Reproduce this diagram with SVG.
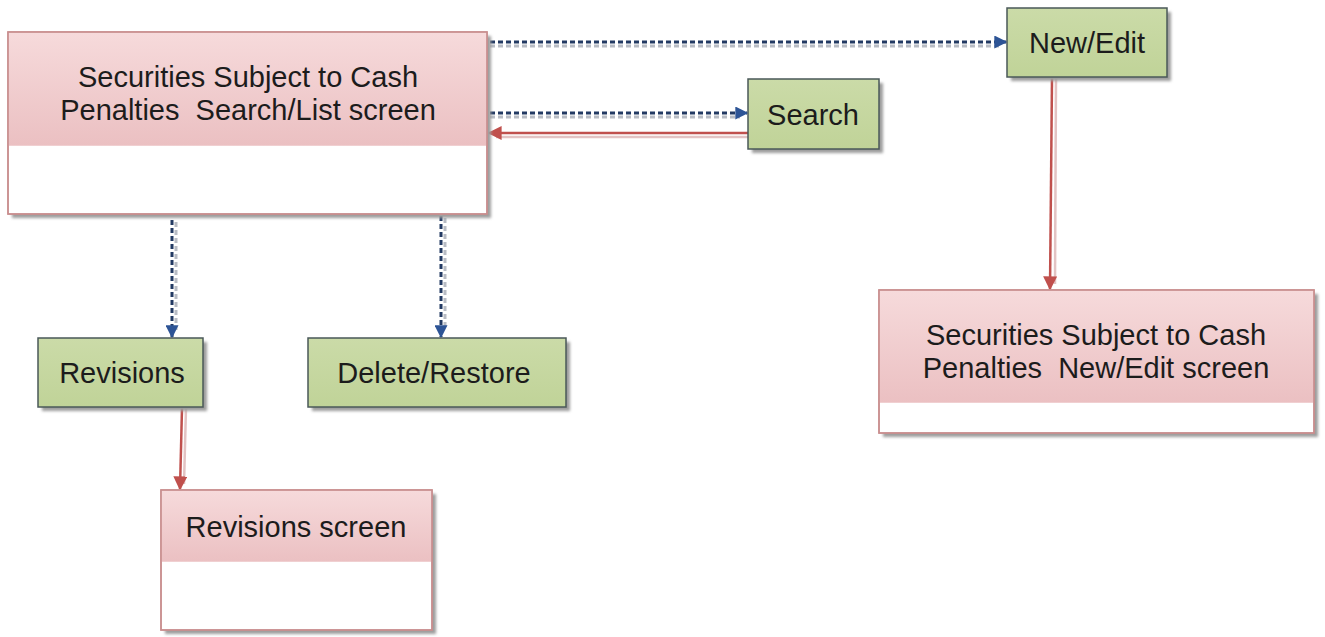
<svg xmlns="http://www.w3.org/2000/svg" width="1325" height="637" viewBox="0 0 1325 637">
  <defs>
    <linearGradient id="pinkHead" x1="0" y1="0" x2="0" y2="1">
      <stop offset="0" stop-color="#f6dadb"/>
      <stop offset="1" stop-color="#ebc0c2"/>
    </linearGradient>
    <linearGradient id="greenFill" x1="0" y1="0" x2="0" y2="1">
      <stop offset="0" stop-color="#cbdba8"/>
      <stop offset="1" stop-color="#c0d398"/>
    </linearGradient>
    <filter id="shadow" x="-10%" y="-10%" width="130%" height="130%">
      <feGaussianBlur stdDeviation="1.5"/>
    </filter>
    <marker id="blueArrow" viewBox="0 0 10 10" refX="9" refY="5" markerWidth="13" markerHeight="13" markerUnits="userSpaceOnUse" orient="auto">
      <path d="M0,0 L10,5 L0,10 Z" fill="#2d5496"/>
    </marker>
    <marker id="redArrow" viewBox="0 0 10 10" refX="9" refY="5" markerWidth="14" markerHeight="14" markerUnits="userSpaceOnUse" orient="auto">
      <path d="M0,0 L10,5 L0,10 Z" fill="#c0504d"/>
    </marker>
  </defs>
  <style>
    .shadow { fill: #9c9c9c; filter: url(#shadow); }
    .screen { fill: #ffffff; stroke: #c98e8f; stroke-width: 1.5; }
    .head { fill: url(#pinkHead); }
    .btn { fill: url(#greenFill); stroke: #4a5858; stroke-width: 1.5; }
    .label { font-family: "Liberation Sans", Arial, sans-serif; font-size: 29px; fill: #1c1c1c; text-anchor: middle; }
    .dot { fill: none; stroke: #233a63; stroke-width: 3; stroke-dasharray: 5 3; }
    .dotShadow { fill: none; stroke: #b8bcc4; stroke-width: 3; stroke-dasharray: 5 3; }
    .red { fill: none; stroke: #c0504d; stroke-width: 2.5; }
    .redShadow { fill: none; stroke: #e3c3c3; stroke-width: 2.5; }
  </style>

  <rect width="1325" height="637" fill="#ffffff"/>

  <g id="connectors">
    <!-- main -> New/Edit -->
    <line class="dotShadow" x1="490" y1="46" x2="1000" y2="46"/>
    <line class="dot" x1="490" y1="42" x2="1006" y2="42" marker-end="url(#blueArrow)"/>
    <!-- main -> Search -->
    <line class="dotShadow" x1="490" y1="117" x2="740" y2="117"/>
    <line class="dot" x1="490" y1="113" x2="747" y2="113" marker-end="url(#blueArrow)"/>
    <!-- Search -> main -->
    <line class="redShadow" x1="748" y1="137" x2="496" y2="137"/>
    <line class="red" x1="748" y1="133" x2="489" y2="133" marker-end="url(#redArrow)"/>
    <!-- main -> Revisions -->
    <line class="dotShadow" x1="176" y1="222" x2="176" y2="330"/>
    <line class="dot" x1="172" y1="220" x2="172" y2="337" marker-end="url(#blueArrow)"/>
    <!-- main -> Delete/Restore -->
    <line class="dotShadow" x1="445" y1="218" x2="445" y2="330"/>
    <line class="dot" x1="441" y1="216" x2="441" y2="337" marker-end="url(#blueArrow)"/>
    <!-- Revisions -> Revisions screen -->
    <line class="redShadow" x1="186" y1="408" x2="184" y2="484"/>
    <line class="red" x1="182" y1="408" x2="180" y2="489" marker-end="url(#redArrow)"/>
    <!-- New/Edit -> New/Edit screen -->
    <line class="redShadow" x1="1056" y1="78" x2="1055" y2="284"/>
    <line class="red" x1="1052" y1="78" x2="1050" y2="289" marker-end="url(#redArrow)"/>
  </g>

  <g id="node-main">
    <rect class="shadow" x="12" y="36" width="479" height="182"/>
    <rect class="screen" x="8" y="32" width="479" height="182"/>
    <rect class="head" x="8.75" y="32.75" width="477.5" height="113"/>
    <rect x="8" y="32" width="479" height="182" fill="none" stroke="#c98e8f" stroke-width="1.5"/>
    <text class="label" x="248" y="87">Securities Subject to Cash</text>
    <text class="label" x="248" y="120" xml:space="preserve">Penalties  Search/List screen</text>
  </g>

  <g id="node-search">
    <rect class="shadow" x="752" y="83" width="131" height="70"/>
    <rect class="btn" x="748" y="79" width="131" height="70"/>
    <text class="label" x="813" y="125">Search</text>
  </g>

  <g id="node-newedit">
    <rect class="shadow" x="1011" y="12" width="160" height="69"/>
    <rect class="btn" x="1007" y="8" width="160" height="69"/>
    <text class="label" x="1087" y="53">New/Edit</text>
  </g>

  <g id="node-revisions">
    <rect class="shadow" x="42" y="342" width="165" height="69"/>
    <rect class="btn" x="38" y="338" width="165" height="69"/>
    <text class="label" x="122" y="383">Revisions</text>
  </g>

  <g id="node-delete">
    <rect class="shadow" x="312" y="342" width="258" height="69"/>
    <rect class="btn" x="308" y="338" width="258" height="69"/>
    <text class="label" x="434" y="383">Delete/Restore</text>
  </g>

  <g id="node-revisions-screen">
    <rect class="shadow" x="165" y="494" width="271" height="140"/>
    <rect class="screen" x="161" y="490" width="271" height="140"/>
    <rect class="head" x="161.75" y="490.75" width="269.5" height="71"/>
    <rect x="161" y="490" width="271" height="140" fill="none" stroke="#c98e8f" stroke-width="1.5"/>
    <text class="label" x="296" y="537">Revisions screen</text>
  </g>

  <g id="node-newedit-screen">
    <rect class="shadow" x="883" y="294" width="435" height="143"/>
    <rect class="screen" x="879" y="290" width="435" height="143"/>
    <rect class="head" x="879.75" y="290.75" width="433.5" height="112"/>
    <rect x="879" y="290" width="435" height="143" fill="none" stroke="#c98e8f" stroke-width="1.5"/>
    <text class="label" x="1096" y="345">Securities Subject to Cash</text>
    <text class="label" x="1096" y="378" xml:space="preserve">Penalties  New/Edit screen</text>
  </g>
</svg>
